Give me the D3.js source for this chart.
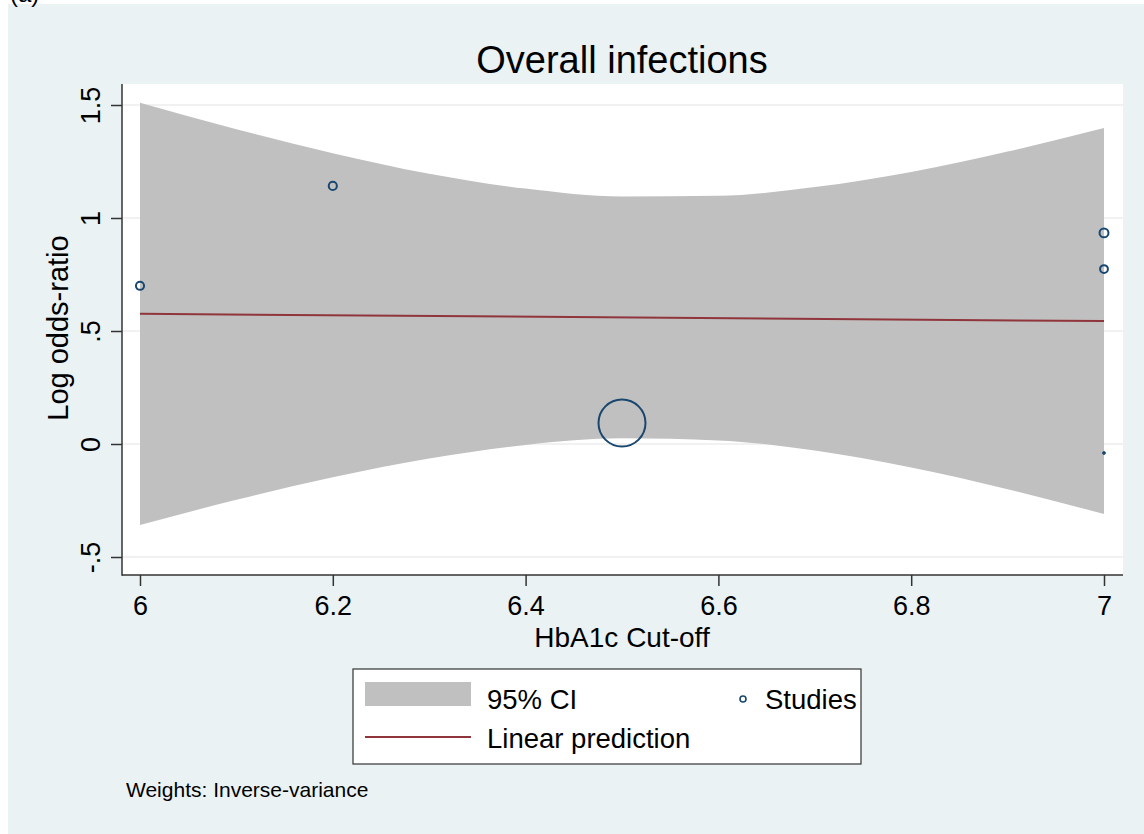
<!DOCTYPE html>
<html>
<head>
<meta charset="utf-8">
<script src="https://cdn.jsdelivr.net/npm/d3@7/dist/d3.min.js"></script>
<style>
  html, body { margin: 0; padding: 0; background: #ffffff; }
  svg { display: block; font-family: "Liberation Sans", Arial, Helvetica, sans-serif; }
</style>
</head>
<body>
<svg id="chart" width="1144" height="834"></svg>
<script>
// ---- Data ----
const bandX      = [6.0, 6.1, 6.2, 6.3, 6.4, 6.5, 6.6, 6.7, 6.8, 6.9, 7.0];
const bandUpper  = [1.510, 1.393, 1.287, 1.196, 1.130, 1.095, 1.098, 1.137, 1.204, 1.294, 1.398];
const bandLower  = [-0.358, -0.247, -0.147, -0.064, -0.004, 0.025, 0.016, -0.029, -0.104, -0.200, -0.310];
const predX      = [6.0, 7.0];
const predY      = [0.576, 0.544];
const studyX     = [6.0, 6.2, 7.0, 7.0, 6.5, 7.0];
const studyY     = [0.70, 1.142, 0.934, 0.774, 0.093, -0.04];
const studyW     = [3.0, 3.0, 3.6, 2.8, 100, 0.4];
const xTicks     = [6, 6.2, 6.4, 6.6, 6.8, 7];
const xTickLabels = ["6", "6.2", "6.4", "6.6", "6.8", "7"];
const yTicks     = [-0.5, 0, 0.5, 1, 1.5];
const yTickLabels = ["-.5", "0", ".5", "1", "1.5"];
const titleText  = "Overall infections";
const xTitle     = "HbA1c Cut-off";
const yTitle     = "Log odds-ratio";
const legendLabels = ["95% CI", "Studies", "Linear prediction"];
const noteText   = "Weights: Inverse-variance";

// ---- Layout ----
const svg = d3.select("#chart");
const region = { left: 122, right: 1123, top: 84, bottom: 575 };
const x = d3.scaleLinear().domain([6, 7]).range([140, 1104]);
const y = d3.scaleLinear().domain([-0.5, 1.5]).range([557, 105]);
const r = d3.scaleSqrt().domain([0, 100]).range([0, 23.5]);

const navy = "#1a476f";
const maroon = "#90353b";
const bandFill = "#c0c0c0";

// outer background
svg.append("rect").attr("x", 8).attr("y", 4).attr("width", 1136).attr("height", 830).attr("fill", "#eaf2f3");
svg.append("text").attr("x", 10).attr("y", 2).attr("font-size", 24).attr("fill", "#000").text("(a)");

// plot region
svg.append("rect")
  .attr("x", region.left).attr("y", region.top)
  .attr("width", region.right - region.left).attr("height", region.bottom - region.top)
  .attr("fill", "#ffffff");

// gridlines
svg.append("g").selectAll("line").data(yTicks).join("line")
  .attr("x1", region.left).attr("x2", region.right)
  .attr("y1", d => y(d)).attr("y2", d => y(d))
  .attr("stroke", "#ececec").attr("stroke-width", 1.5);

// CI band
const bandData = bandX.map((v, i) => ({ x: v, lo: bandLower[i], hi: bandUpper[i] }));
svg.append("path").datum(bandData)
  .attr("fill", bandFill)
  .attr("d", d3.area().x(d => x(d.x)).y0(d => y(d.lo)).y1(d => y(d.hi)).curve(d3.curveMonotoneX));

// linear prediction
svg.append("path").datum(predX.map((v, i) => [v, predY[i]]))
  .attr("fill", "none").attr("stroke", maroon).attr("stroke-width", 2)
  .attr("d", d3.line().x(d => x(d[0])).y(d => y(d[1])));

// studies
svg.append("g").selectAll("circle").data(studyX.map((v, i) => ({ x: v, y: studyY[i], w: studyW[i] })))
  .join("circle")
  .attr("cx", d => x(d.x)).attr("cy", d => y(d.y))
  .attr("r", d => Math.max(r(d.w), 1.3))
  .attr("fill", d => r(d.w) < 2 ? navy : "none")
  .attr("stroke", navy).attr("stroke-width", d => r(d.w) < 2 ? 0.8 : 2);

// axes
const yAxis = d3.axisLeft(y).tickValues(yTicks).tickFormat((d, i) => yTickLabels[i]).tickSize(11);
const gy = svg.append("g").attr("transform", `translate(${region.left},0)`).call(yAxis);
gy.select(".domain").remove();
gy.selectAll(".tick line").attr("stroke", "#333").attr("stroke-width", 1.5);
gy.selectAll(".tick text")
  .attr("font-size", 27).attr("fill", "#000")
  .attr("font-family", "Liberation Sans, Arial, sans-serif")
  .attr("x", null).attr("dy", null).attr("y", null)
  .attr("text-anchor", "middle")
  .attr("transform", "translate(-22,0) rotate(-90)");

const xAxis = d3.axisBottom(x).tickValues(xTicks).tickFormat((d, i) => xTickLabels[i]).tickSize(11);
const gx = svg.append("g").attr("transform", `translate(0,${region.bottom})`).call(xAxis);
gx.select(".domain").remove();
gx.selectAll(".tick line").attr("stroke", "#333").attr("stroke-width", 1.5);
gx.selectAll(".tick text").attr("font-size", 27).attr("fill", "#000")
  .attr("font-family", "Liberation Sans, Arial, sans-serif")
  .attr("dy", null).attr("y", 40);

// axis lines
svg.append("line").attr("x1", region.left).attr("x2", region.left).attr("y1", region.top).attr("y2", region.bottom + 0.75)
  .attr("stroke", "#333").attr("stroke-width", 1.5);
svg.append("line").attr("x1", region.left).attr("x2", region.right).attr("y1", region.bottom).attr("y2", region.bottom)
  .attr("stroke", "#333").attr("stroke-width", 1.5);

// titles
svg.append("text").attr("x", 622).attr("y", 73).attr("text-anchor", "middle").attr("font-size", 38).attr("fill", "#000").text(titleText);
svg.append("text").attr("x", 622).attr("y", 647).attr("text-anchor", "middle").attr("font-size", 28).attr("fill", "#000").text(xTitle);
svg.append("text").attr("transform", "translate(68,328) rotate(-90)").attr("text-anchor", "middle").attr("font-size", 29).attr("fill", "#000").text(yTitle);

// legend
const lg = svg.append("g");
lg.append("rect").attr("x", 353).attr("y", 669).attr("width", 508).attr("height", 95)
  .attr("fill", "#ffffff").attr("stroke", "#333").attr("stroke-width", 1.2);
lg.append("rect").attr("x", 365).attr("y", 682).attr("width", 106).attr("height", 24).attr("fill", bandFill);
lg.append("text").attr("x", 487).attr("y", 709).attr("font-size", 27.5).attr("fill", "#000").text(legendLabels[0]);
lg.append("circle").attr("cx", 743).attr("cy", 699).attr("r", 3).attr("fill", "none").attr("stroke", navy).attr("stroke-width", 1.6);
lg.append("text").attr("x", 765).attr("y", 709).attr("font-size", 27.5).attr("fill", "#000").text(legendLabels[1]);
lg.append("line").attr("x1", 365).attr("x2", 471).attr("y1", 737).attr("y2", 737).attr("stroke", maroon).attr("stroke-width", 2);
lg.append("text").attr("x", 487).attr("y", 748).attr("font-size", 27.5).attr("fill", "#000").text(legendLabels[2]);

// note
svg.append("text").attr("x", 126).attr("y", 797).attr("font-size", 21).attr("fill", "#000").text(noteText);
</script>
</body>
</html>
